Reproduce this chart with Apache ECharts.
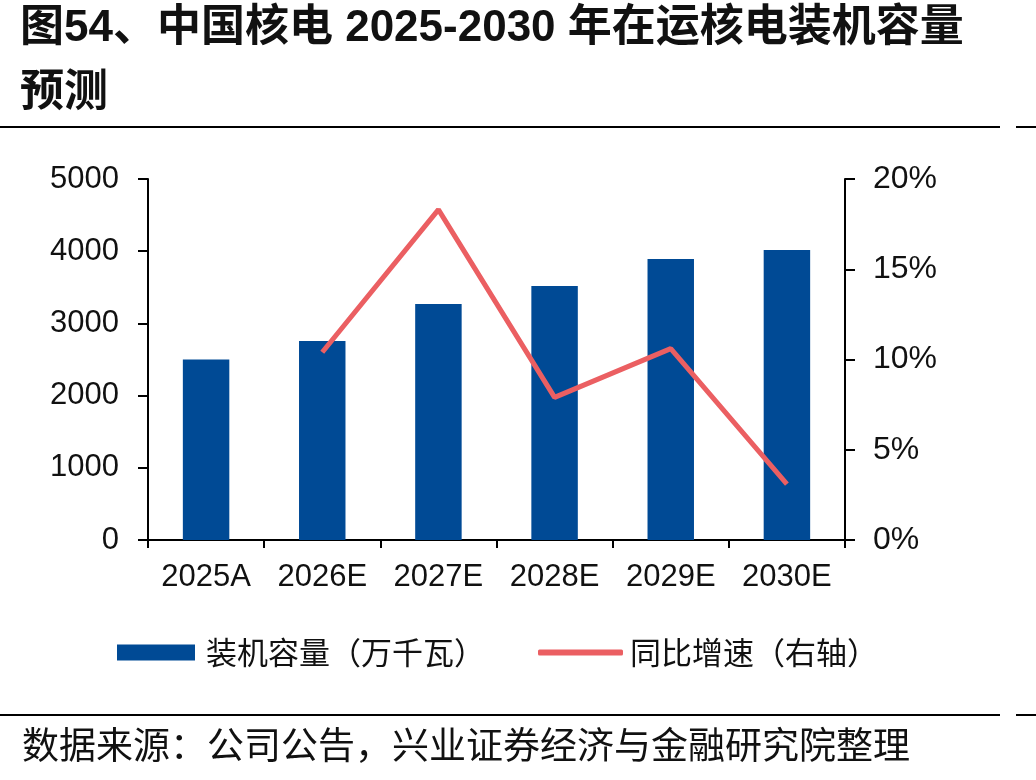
<!DOCTYPE html>
<html>
<head>
<meta charset="utf-8">
<script src="https://cdn.jsdelivr.net/npm/echarts@6/dist/echarts.min.js"></script>
<style>
html,body{margin:0;padding:0;background:#fff;}
#main{width:1036px;height:780px;}
</style>
</head>
<body>
<div id="main"></div>
<script>
var categories = ['2025A', '2026E', '2027E', '2028E', '2029E', '2030E'];
var capacity = [2500, 2756, 3268, 3518, 3892, 4017];
var growth = [null, 10.4, 18.3, 7.9, 10.6, 3.1];

var font = '"Liberation Sans", Arial, "Noto Sans CJK SC", sans-serif';
var cjk = '"Noto Sans CJK SC", sans-serif';

var myChart = echarts.init(document.getElementById('main'));

var option = {
	animation: false,
	backgroundColor: '#fff',
	grid: {left: 148, right: 191, top: 179, bottom: 240},
	legend: [
		{
			data: [{name: '装机容量（万千瓦）', icon: 'rect'}],
			left: 117, top: 637, padding: 0,
			itemWidth: 78, itemHeight: 16,
			textStyle: {fontSize: 31, color: '#111', fontFamily: cjk, padding: [0, 0, 0, 6]}
		},
		{
			data: [{name: '同比增速（右轴）', icon: 'roundRect'}],
			left: 538, top: 637, padding: 0,
			itemWidth: 85, itemHeight: 6,
			textStyle: {fontSize: 31, color: '#111', fontFamily: cjk, padding: [0, 0, 0, 2]}
		}
	],
	xAxis: {
		type: 'category',
		data: categories,
		axisLine: {lineStyle: {color: '#000', width: 2}},
		axisTick: {show: true, length: 8, lineStyle: {color: '#000', width: 2}},
		axisLabel: {fontSize: 31, color: '#111', margin: 22, interval: 0, fontFamily: font}
	},
	yAxis: [
		{
			type: 'value', min: 0, max: 5000, interval: 1000,
			axisLine: {show: true, lineStyle: {color: '#000', width: 2}},
			axisTick: {show: true, length: 10, lineStyle: {color: '#000', width: 2}},
			splitLine: {show: false},
			axisLabel: {fontSize: 31, color: '#111', margin: 29, fontFamily: font, formatter: function (v) { return String(v); }}
		},
		{
			type: 'value', min: 0, max: 20, interval: 5,
			axisLine: {show: true, lineStyle: {color: '#000', width: 2}},
			axisTick: {show: true, length: 10, lineStyle: {color: '#000', width: 2}},
			splitLine: {show: false},
			axisLabel: {fontSize: 32, color: '#111', margin: 28, fontFamily: font, formatter: '{value}%'}
		}
	],
	series: [
		{
			name: '装机容量（万千瓦）',
			type: 'bar',
			data: capacity,
			barWidth: '40%',
			itemStyle: {color: '#004A95'}
		},
		{
			name: '同比增速（右轴）',
			type: 'line',
			yAxisIndex: 1,
			data: growth,
			symbol: 'none',
			lineStyle: {color: '#EB5F62', width: 5},
			itemStyle: {color: '#EB5F62'}
		}
	],
	graphic: [
		{type: 'text', left: 20, top: 7, style: {text: '图54、中国核电 2025-2030 年在运核电装机容量', font: 'bold 44px ' + font, fill: '#111'}},
		{type: 'text', left: 20, top: 72, style: {text: '预测', font: 'bold 44px ' + font, fill: '#111'}},
		{type: 'rect', shape: {x: 0, y: 126, width: 1000, height: 2}, style: {fill: '#000'}},
		{type: 'rect', shape: {x: 1016, y: 126, width: 20, height: 2}, style: {fill: '#000'}},
		{type: 'rect', shape: {x: 0, y: 714, width: 1000, height: 2}, style: {fill: '#000'}},
		{type: 'rect', shape: {x: 1016, y: 714, width: 20, height: 2}, style: {fill: '#000'}},
		{type: 'text', left: 22, top: 726, style: {text: '数据来源：公司公告，兴业证券经济与金融研究院整理', font: '37px ' + cjk, fill: '#111'}}
	]
};

myChart.setOption(option);
</script>
</body>
</html>
